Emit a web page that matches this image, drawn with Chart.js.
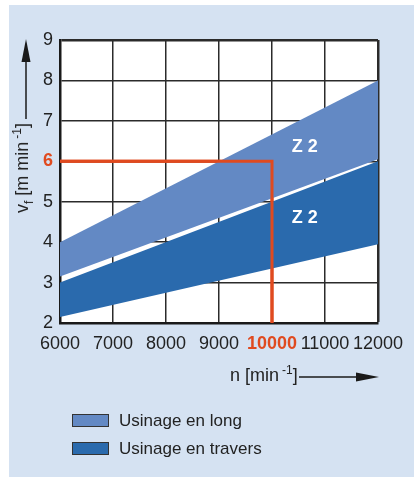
<!DOCTYPE html>
<html>
<head>
<meta charset="utf-8">
<script src="https://cdn.jsdelivr.net/npm/chart.js@4/dist/chart.umd.min.js"></script>
<style>
  html, body { margin: 0; padding: 0; background: #ffffff; }
  #wrap { position: relative; width: 414px; height: 477px; font-family: 'Liberation Sans', Arial, sans-serif; color: #222; }
  canvas { position: absolute; left: 0; top: 0; }
  .title { position: absolute; white-space: nowrap; font-size: 18px; line-height: 1; color: #222; }
  .title sub, .title sup { font-size: 12px; line-height: 0; }
  .title sup { margin-left: 3px; }
  #ytitle { left: 22px; top: 168px; transform: translate(-50%, -50%) rotate(-90deg); }
  #xtitle { left: 230px; top: 375px; transform: translateY(-50%); }
  #legend { position: absolute; left: 72px; top: 414px; }
  .item { display: flex; align-items: center; height: 13px; margin-bottom: 15px; font-size: 17px; color: #222; white-space: nowrap; }
  .sw { width: 35px; height: 11px; border: 1px solid #333; margin-right: 10px; }
</style>
</head>
<body>
<div id="wrap">
  <canvas id="c" width="414" height="477"></canvas>
  <div id="ytitle" class="title">v<sub>f</sub> [m min<sup>-1</sup>]</div>
  <div id="xtitle" class="title">n [min<sup>-1</sup>]</div>
  <div id="legend"></div>
</div>
<script>
// ---- data ----
const xValues = [6000, 12000];
const longUpper = [4.0, 8.0];
const longLower = [3.15, 6.05];
const traversUpper = [3.0, 6.0];
const traversLower = [2.15, 3.95];
const readX = [6000, 10000, 10000];
const readY = [6, 6, 2];
const xTicks = [6000, 7000, 8000, 9000, 10000, 11000, 12000];
const yTicks = [2, 3, 4, 5, 6, 7, 8, 9];
const highlightX = 10000;
const highlightY = 6;
const seriesLabels = ['Usinage en long', 'Usinage en travers'];
const zoneLabel = 'Z 2';
const zoneLabelX = [10620, 10620];
const zoneLabelY = [6.35, 4.6];

// ---- styles ----
const colLong = '#6389c4';
const colTravers = '#2a6aad';
const colRed = '#e04a1f';
const colBg = '#d5e2f2';

const pts = (xs, ys) => xs.map((x, i) => ({ x: x, y: ys[i] }));
const bandDs = (data, fill, color, label) => ({
  label: label, data: data, fill: fill, backgroundColor: color,
  borderWidth: 0, pointRadius: 0, tension: 0
});

const datasets = [
  bandDs(pts(xValues, longUpper), '+1', colLong, seriesLabels[0]),
  bandDs(pts(xValues, longLower), false, 'transparent', ''),
  bandDs(pts(xValues, traversUpper), '+1', colTravers, seriesLabels[1]),
  bandDs(pts(xValues, traversLower), false, 'transparent', ''),
  { label: '', data: pts(readX, readY), fill: false, borderColor: colRed,
    borderWidth: 3, pointRadius: 0, tension: 0, borderCapStyle: 'butt', borderJoinStyle: 'miter' }
];
const RED_IDX = 4;

const tickVal = c => (c && c.tick) ? c.tick.value : null;

const decor = {
  id: 'decor',
  beforeDraw(chart) {
    const ctx = chart.ctx, a = chart.chartArea;
    ctx.save();
    ctx.fillStyle = '#ffffff';
    ctx.fillRect(0, 0, chart.width, chart.height);
    ctx.fillStyle = colBg;
    ctx.fillRect(9, 5, chart.width - 9, chart.height - 5);
    ctx.fillStyle = '#ffffff';
    ctx.fillRect(a.left, a.top, a.right - a.left, a.bottom - a.top);
    ctx.restore();
  },
  afterDraw(chart) {
    const ctx = chart.ctx;
    chart.getDatasetMeta(RED_IDX).controller.draw();
    const xs = chart.scales.x, ys = chart.scales.y;
    ctx.save();
    ctx.fillStyle = '#ffffff';
    ctx.font = 'bold 18px "Liberation Sans", Arial, sans-serif';
    ctx.textAlign = 'center';
    ctx.textBaseline = 'middle';
    for (let i = 0; i < zoneLabelX.length; i++) {
      ctx.fillText(zoneLabel, xs.getPixelForValue(zoneLabelX[i]), ys.getPixelForValue(zoneLabelY[i]));
    }
    ctx.strokeStyle = '#1a1a1a';
    ctx.fillStyle = '#1a1a1a';
    ctx.lineWidth = 1.5;
    ctx.beginPath();
    ctx.moveTo(26, 119); ctx.lineTo(26, 58);
    ctx.stroke();
    ctx.beginPath();
    ctx.moveTo(26, 39); ctx.lineTo(21.5, 62); ctx.lineTo(30.5, 62); ctx.closePath();
    ctx.fill();
    ctx.beginPath();
    ctx.moveTo(299, 377); ctx.lineTo(360, 377);
    ctx.stroke();
    ctx.beginPath();
    ctx.moveTo(379, 377); ctx.lineTo(356, 372.5); ctx.lineTo(356, 381.5); ctx.closePath();
    ctx.fill();
    ctx.restore();
  }
};

const gridColor = '#2b2b2b';
const fontFam = '"Liberation Sans", Arial, sans-serif';
const chart = new Chart(document.getElementById('c'), {
  type: 'line',
  data: { datasets: datasets },
  options: {
    responsive: false,
    devicePixelRatio: 1,
    animation: false,
    layout: { padding: { left: 10, top: 40, right: 36, bottom: 114 } },
    plugins: { legend: { display: false }, tooltip: { enabled: false } },
    scales: {
      x: {
        type: 'linear', min: xTicks[0], max: xTicks[xTicks.length - 1], z: 1,
        afterBuildTicks: s => { s.ticks = xTicks.map(v => ({ value: v })); },
        afterFit: s => { s.height = 40; },
        grid: { color: gridColor, lineWidth: c => tickVal(c) === xTicks[xTicks.length - 1] ? 2.5 : 1.5, drawTicks: false },
        border: { display: true, color: '#1a1a1a', width: 2.5 },
        ticks: {
          padding: 10, maxRotation: 0, autoSkip: false,
          callback: v => String(v),
          color: c => tickVal(c) === highlightX ? colRed : '#222',
          font: c => ({ family: fontFam, size: 18, weight: tickVal(c) === highlightX ? 'bold' : 'normal' })
        }
      },
      y: {
        type: 'linear', min: yTicks[0], max: yTicks[yTicks.length - 1], z: 1,
        afterBuildTicks: s => { s.ticks = yTicks.map(v => ({ value: v })); },
        afterFit: s => { s.width = 50; },
        grid: { color: gridColor, lineWidth: c => tickVal(c) === yTicks[yTicks.length - 1] ? 2.5 : 1.5, drawTicks: false },
        border: { display: true, color: '#1a1a1a', width: 2.5 },
        ticks: {
          padding: 7, autoSkip: false,
          callback: v => String(v),
          color: c => tickVal(c) === highlightY ? colRed : '#222',
          font: c => ({ family: fontFam, size: 18, weight: tickVal(c) === highlightY ? 'bold' : 'normal' })
        }
      }
    }
  },
  plugins: [decor]
});

const legend = document.getElementById('legend');
chart.data.datasets.forEach(ds => {
  if (!ds.label) return;
  const row = document.createElement('div');
  row.className = 'item';
  const sw = document.createElement('div');
  sw.className = 'sw';
  sw.style.background = ds.backgroundColor;
  const tx = document.createElement('span');
  tx.textContent = ds.label;
  row.appendChild(sw); row.appendChild(tx);
  legend.appendChild(row);
});
</script>
</body>
</html>
